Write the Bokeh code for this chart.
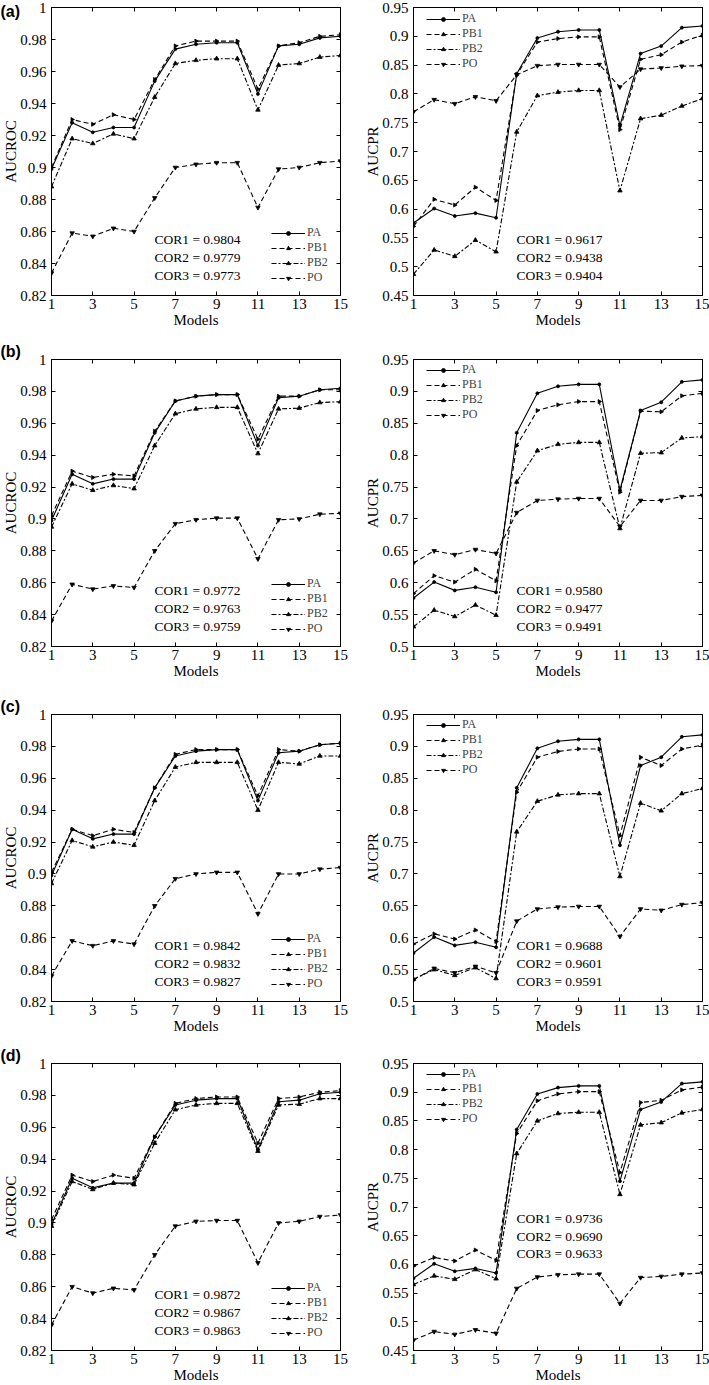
import math
from bokeh.plotting import figure
from bokeh.layouts import column, row
from bokeh.models import (FixedTicker, LinearAxis, Legend, LegendItem, Label,
                          Range1d, CustomJSTickFormatter, Title)
from bokeh.embed import file_html
from bokeh.resources import INLINE

# ---------------- data ----------------
models = list(range(1, 16))
x_ticks = [1, 3, 5, 7, 9, 11, 13, 15]
roc_ticks = [0.82, 0.84, 0.86, 0.88, 0.90, 0.92, 0.94, 0.96, 0.98, 1.0]
pr_ticks_45 = [0.45, 0.50, 0.55, 0.60, 0.65, 0.70, 0.75, 0.80, 0.85, 0.90, 0.95]
pr_ticks_50 = [0.50, 0.55, 0.60, 0.65, 0.70, 0.75, 0.80, 0.85, 0.90, 0.95]
series_names = ["PA", "PB1", "PB2", "PO"]
panel_letters = ["(a)", "(b)", "(c)", "(d)"]

pa_roc = [0.899, 0.928, 0.922, 0.925, 0.925, 0.954, 0.974, 0.977, 0.978, 0.978, 0.946, 0.976, 0.977, 0.981, 0.982]
pa_pr = [0.576, 0.601, 0.588, 0.593, 0.585, 0.835, 0.897, 0.908, 0.911, 0.911, 0.745, 0.870, 0.883, 0.915, 0.918]

a_roc_pb1 = [0.900, 0.930, 0.927, 0.933, 0.930, 0.955, 0.976, 0.979, 0.979, 0.979, 0.949, 0.976, 0.978, 0.982, 0.983]
a_roc_pb2 = [0.888, 0.918, 0.915, 0.921, 0.918, 0.944, 0.965, 0.967, 0.968, 0.968, 0.936, 0.964, 0.965, 0.969, 0.970]
a_roc_po = [0.834, 0.859, 0.857, 0.862, 0.860, 0.881, 0.900, 0.902, 0.903, 0.903, 0.875, 0.899, 0.900, 0.903, 0.904]
a_pr_pb1 = [0.570, 0.617, 0.607, 0.638, 0.615, 0.833, 0.890, 0.896, 0.899, 0.899, 0.738, 0.860, 0.868, 0.890, 0.902]
a_pr_pb2 = [0.487, 0.529, 0.518, 0.546, 0.526, 0.734, 0.797, 0.803, 0.806, 0.806, 0.632, 0.757, 0.763, 0.779, 0.792]
a_pr_po = [0.769, 0.790, 0.783, 0.795, 0.788, 0.833, 0.849, 0.851, 0.851, 0.851, 0.812, 0.843, 0.845, 0.848, 0.849]

b_roc_pb1 = [0.902, 0.930, 0.926, 0.928, 0.927, 0.955, 0.974, 0.977, 0.978, 0.978, 0.950, 0.977, 0.977, 0.981, 0.981]
b_roc_pb2 = [0.895, 0.922, 0.918, 0.921, 0.919, 0.946, 0.966, 0.969, 0.970, 0.970, 0.941, 0.969, 0.9695, 0.973, 0.9735]
b_roc_po = [0.836, 0.859, 0.856, 0.858, 0.857, 0.880, 0.897, 0.8995, 0.9005, 0.9005, 0.875, 0.8995, 0.900, 0.903, 0.9035]
b_pr_pb1 = [0.583, 0.611, 0.601, 0.621, 0.603, 0.815, 0.870, 0.879, 0.884, 0.884, 0.742, 0.869, 0.868, 0.893, 0.897]
b_pr_pb2 = [0.531, 0.557, 0.547, 0.565, 0.549, 0.758, 0.807, 0.817, 0.820, 0.820, 0.685, 0.803, 0.804, 0.827, 0.829]
b_pr_po = [0.631, 0.650, 0.644, 0.652, 0.646, 0.710, 0.729, 0.731, 0.732, 0.732, 0.688, 0.729, 0.729, 0.735, 0.737]

c_roc_pb1 = [0.901, 0.928, 0.924, 0.928, 0.926, 0.954, 0.975, 0.978, 0.978, 0.978, 0.949, 0.978, 0.977, 0.981, 0.982]
c_roc_pb2 = [0.894, 0.921, 0.917, 0.920, 0.918, 0.946, 0.967, 0.970, 0.970, 0.970, 0.940, 0.970, 0.969, 0.974, 0.974]
c_roc_po = [0.836, 0.858, 0.855, 0.858, 0.856, 0.880, 0.897, 0.900, 0.901, 0.901, 0.875, 0.900, 0.900, 0.903, 0.904]
c_pr_pb1 = [0.590, 0.606, 0.598, 0.612, 0.594, 0.828, 0.883, 0.892, 0.896, 0.896, 0.760, 0.883, 0.870, 0.896, 0.902]
c_pr_pb2 = [0.535, 0.550, 0.541, 0.553, 0.536, 0.766, 0.814, 0.824, 0.826, 0.826, 0.696, 0.811, 0.799, 0.826, 0.834]
c_pr_po = [0.534, 0.552, 0.545, 0.555, 0.545, 0.626, 0.645, 0.648, 0.649, 0.649, 0.602, 0.645, 0.643, 0.652, 0.655]

d_roc_pb1 = [0.902, 0.930, 0.926, 0.930, 0.928, 0.954, 0.975, 0.978, 0.979, 0.979, 0.950, 0.978, 0.979, 0.982, 0.983]
d_roc_pb2 = [0.898, 0.926, 0.921, 0.925, 0.924, 0.950, 0.971, 0.974, 0.975, 0.975, 0.945, 0.974, 0.9745, 0.978, 0.978]
d_roc_po = [0.836, 0.860, 0.856, 0.859, 0.858, 0.880, 0.898, 0.901, 0.9015, 0.9015, 0.875, 0.900, 0.901, 0.904, 0.905]
d_pr_pb1 = [0.597, 0.612, 0.606, 0.625, 0.607, 0.828, 0.885, 0.897, 0.901, 0.901, 0.760, 0.882, 0.886, 0.904, 0.909]
d_pr_pb2 = [0.565, 0.580, 0.574, 0.591, 0.575, 0.793, 0.850, 0.863, 0.865, 0.865, 0.722, 0.843, 0.847, 0.864, 0.870]
d_pr_po = [0.468, 0.483, 0.478, 0.486, 0.480, 0.558, 0.578, 0.582, 0.583, 0.583, 0.532, 0.577, 0.579, 0.583, 0.585]

cor_roc = [[0.9804, 0.9779, 0.9773], [0.9772, 0.9763, 0.9759],
           [0.9842, 0.9832, 0.9827], [0.9872, 0.9867, 0.9863]]
cor_pr = [[0.9617, 0.9438, 0.9404], [0.9580, 0.9477, 0.9491],
          [0.9688, 0.9601, 0.9591], [0.9736, 0.9690, 0.9633]]

# ---------------- styling ----------------
SERIF = "Liberation Serif"
FW, FH = 289, 288
LEFT_W, RIGHT_W = 362, 347
STYLE = {
    "PA": dict(dash="solid", marker="circle", size=3, angle=0.0),
    "PB1": dict(dash="5 3", marker="triangle", size=4, angle=-math.pi / 2),
    "PB2": dict(dash="5 2 2 2", marker="triangle", size=4.5, angle=0.0),
    "PO": dict(dash="5 3", marker="inverted_triangle", size=4.5, angle=0.0),
}
fmt = CustomJSTickFormatter(code="return String(Number(tick.toFixed(2)));")


def style_axis(ax, labels=True):
    ax.major_tick_in = 4
    ax.major_tick_out = 0
    ax.minor_tick_line_color = None
    ax.axis_line_color = "black"
    ax.major_tick_line_color = "black"
    if labels:
        ax.major_label_text_font = SERIF
        ax.major_label_text_font_size = "15px"
        ax.major_label_text_color = "black"
        ax.axis_label_text_font = SERIF
        ax.axis_label_text_font_size = "15px"
        ax.axis_label_text_font_style = "normal"
        ax.axis_label_text_color = "black"
    else:
        ax.major_label_text_font_size = "0px"
        ax.major_label_text_color = None
        ax.major_label_standoff = 0


def make_panel(series, ylim, yticks, ylabel, cors, side, cor_fy, letter,
               height, bt, bb, title_standoff):
    left = side == "left"
    width = LEFT_W if left else RIGHT_W
    bl, br = (51, 22) if left else (51, 7)
    p = figure(width=width, height=height, output_backend="svg",
               toolbar_location=None, x_range=Range1d(1, 15),
               y_range=Range1d(*ylim), min_border_left=bl,
               min_border_right=br, min_border_top=bt, min_border_bottom=bb,
               x_axis_label="Models", y_axis_label=ylabel)
    if letter:
        p.title = Title(text=letter, align="left", offset=-bl,
                        standoff=title_standoff, text_font="Liberation Sans",
                        text_font_style="bold", text_font_size="16px",
                        text_color="black")
    p.grid.visible = False
    p.outline_line_color = "black"
    p.outline_line_width = 1
    p.background_fill_color = "white"
    p.border_fill_color = "white"

    p.xaxis.ticker = FixedTicker(ticks=x_ticks)
    p.yaxis.ticker = FixedTicker(ticks=yticks)
    p.yaxis.formatter = fmt
    for ax in p.xaxis:
        style_axis(ax)
        ax.major_label_standoff = 3
        ax.axis_label_standoff = 0
    for ax in p.yaxis:
        style_axis(ax)
        ax.major_label_standoff = 5
        ax.axis_label_standoff = -2

    top = LinearAxis(ticker=FixedTicker(ticks=x_ticks))
    style_axis(top, labels=False)
    p.add_layout(top, "above")
    rgt = LinearAxis(ticker=FixedTicker(ticks=yticks))
    style_axis(rgt, labels=False)
    p.add_layout(rgt, "right")

    items = []
    for name, ys in zip(series_names, series):
        st = STYLE[name]
        r_line = p.line(models, ys, line_color="black", line_width=1.1,
                        line_dash=st["dash"])
        r_mark = p.scatter(models, ys, marker=st["marker"], size=st["size"],
                           angle=st["angle"], fill_color="black",
                           line_color="black", line_width=0.8)
        items.append(LegendItem(label=name, renderers=[r_line, r_mark]))

    if left:
        loc = (round(0.761 * FW), 10)
    else:
        loc = (round(0.045 * FW), FH - 6 - 58)
    leg = Legend(items=items, location=loc, padding=0, margin=0,
                 spacing=0, glyph_width=34, glyph_height=10,
                 label_height=10, label_standoff=2,
                 label_text_font=SERIF, label_text_font_size="12px",
                 border_line_alpha=0, background_fill_alpha=0)
    p.add_layout(leg)

    for i, v in enumerate(cors):
        cy = FH - (cor_fy * FH + i * 17.8)
        p.add_layout(Label(x=round(0.357 * FW), y=cy, x_units="screen",
                           y_units="screen", text=f"COR{i + 1} = {v:.4f}",
                           text_font=SERIF, text_font_size="13.5px",
                           text_baseline="middle", text_color="black"))
    return p


roc_series = [[pa_roc, a_roc_pb1, a_roc_pb2, a_roc_po],
              [pa_roc, b_roc_pb1, b_roc_pb2, b_roc_po],
              [pa_roc, c_roc_pb1, c_roc_pb2, c_roc_po],
              [pa_roc, d_roc_pb1, d_roc_pb2, d_roc_po]]
pr_series = [[pa_pr, a_pr_pb1, a_pr_pb2, a_pr_po],
             [pa_pr, b_pr_pb1, b_pr_pb2, b_pr_po],
             [pa_pr, c_pr_pb1, c_pr_pb2, c_pr_po],
             [pa_pr, d_pr_pb1, d_pr_pb2, d_pr_po]]
pr_lims = [(0.45, 0.95), (0.5, 0.95), (0.5, 0.95), (0.45, 0.95)]
pr_tick_sets = [pr_ticks_45, pr_ticks_50, pr_ticks_50, pr_ticks_45]
pr_cor_fy = [0.807, 0.807, 0.807, 0.541]
# (height, top border, bottom border, title standoff)
row_geom = [(340, 7, 45, -24), (355, 18, 49, 0), (349, 18, 43, 0),
            (341, 18, 35, 0)]

rows = []
for k in range(4):
    h, bt, bb, ts = row_geom[k]
    pl = make_panel(roc_series[k], (0.82, 1.0), roc_ticks, "AUCROC",
                    cor_roc[k], "left", 0.807, panel_letters[k], h, bt, bb, ts)
    pr = make_panel(pr_series[k], pr_lims[k], pr_tick_sets[k], "AUCPR",
                    cor_pr[k], "right", pr_cor_fy[k], None, h, bt, bb, ts)
    rows.append(row(pl, pr))

layout = column(*rows)
open("out.html", "w").write(file_html(layout, INLINE))
